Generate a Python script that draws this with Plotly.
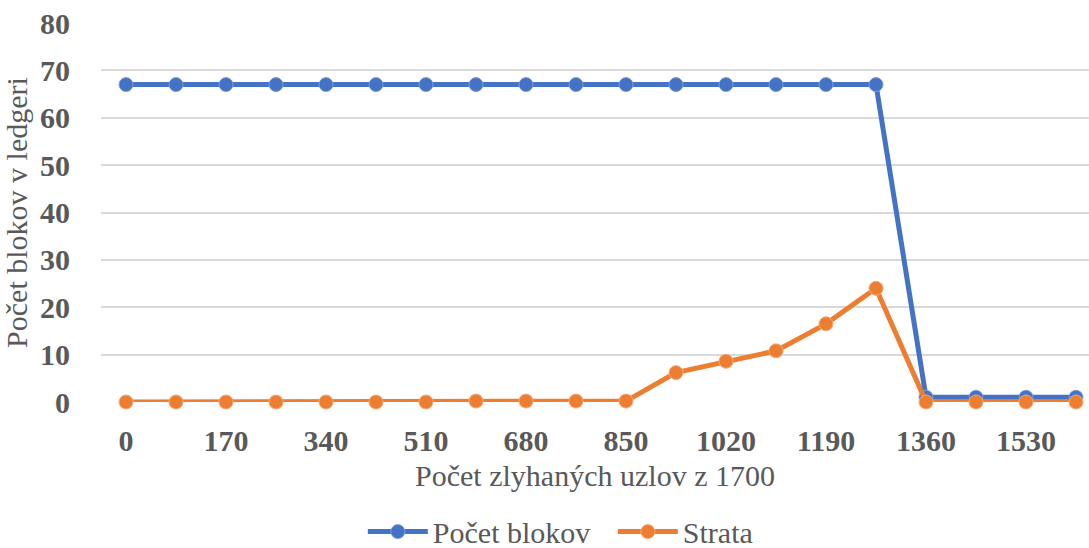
import plotly.graph_objects as go

# x categories: failed nodes out of 1700
failed_nodes = [0, 85, 170, 255, 340, 425, 510, 595, 680, 765, 850, 935,
                1020, 1105, 1190, 1275, 1360, 1445, 1530, 1615]
block_count = [67, 67, 67, 67, 67, 67, 67, 67, 67, 67, 67, 67, 67, 67, 67, 67,
               1, 1, 1, 1]
loss = [0, 0, 0, 0, 0, 0, 0, 0.2, 0.2, 0.2, 0.2, 6.2, 8.6, 10.8, 16.5, 24,
        0, 0, 0, 0]
tick_labels = [0, 170, 340, 510, 680, 850, 1020, 1190, 1360, 1530]

font = "Liberation Serif"
grey = "#595959"

x_str = [str(v) for v in failed_nodes]

fig = go.Figure()

fig.add_trace(go.Scatter(
    x=x_str, y=block_count, mode='lines+markers', name='Počet blokov',
    line=dict(color='#4472c4', width=5),
    marker=dict(color='#4472c4', size=14, line=dict(color='#7f9fd9', width=1)),
    cliponaxis=False
))

fig.add_trace(go.Scatter(
    x=x_str, y=loss, mode='lines+markers', name='Strata',
    line=dict(color='#ed7d31', width=5),
    marker=dict(color='#ed7d31', size=14, line=dict(color='#f4aa7c', width=1)),
    cliponaxis=False
))

fig.update_layout(
    width=1089, height=548,
    margin=dict(l=101, r=0, t=23, b=146, autoexpand=False),
    plot_bgcolor='white', paper_bgcolor='white',
    font=dict(family=font, color=grey, size=30),
    xaxis=dict(
        type='category',
        range=[-0.5, 19.26],
        tickmode='array',
        tickvals=[str(v) for v in tick_labels],
        ticktext=[f"<b>{v}</b>" for v in tick_labels],
        tickfont=dict(family=font, size=30, color=grey),
        showgrid=False, showline=False, zeroline=False, ticks='',
        ticklabelstandoff=18,
        automargin=False,
        title=dict(text='Počet zlyhaných uzlov z 1700',
                   font=dict(family=font, size=30, color=grey), standoff=8),
    ),
    yaxis=dict(
        range=[0, 80],
        tickvals=list(range(0, 81, 10)),
        ticktext=[f"<b>{v}</b>" for v in range(0, 81, 10)],
        tickfont=dict(family=font, size=30, color=grey),
        gridcolor='#d9d9d9', gridwidth=2,
        zeroline=False, showline=False, ticks='',
        ticklabelstandoff=30,
        automargin=False,
        title=dict(text='Počet blokov v ledgeri',
                   font=dict(family=font, size=30, color=grey), standoff=6),
    ),
    legend=dict(
        orientation='h', x=0.265, xanchor='left',
        y=-0.342, yanchor='middle',
        font=dict(family=font, size=30, color=grey),
        itemwidth=60,
        entrywidth=175,
    ),
    showlegend=True,
)

fig.write_html("out.html", config={'displayModeBar': False},
               post_script="document.body.style.margin='0';")
